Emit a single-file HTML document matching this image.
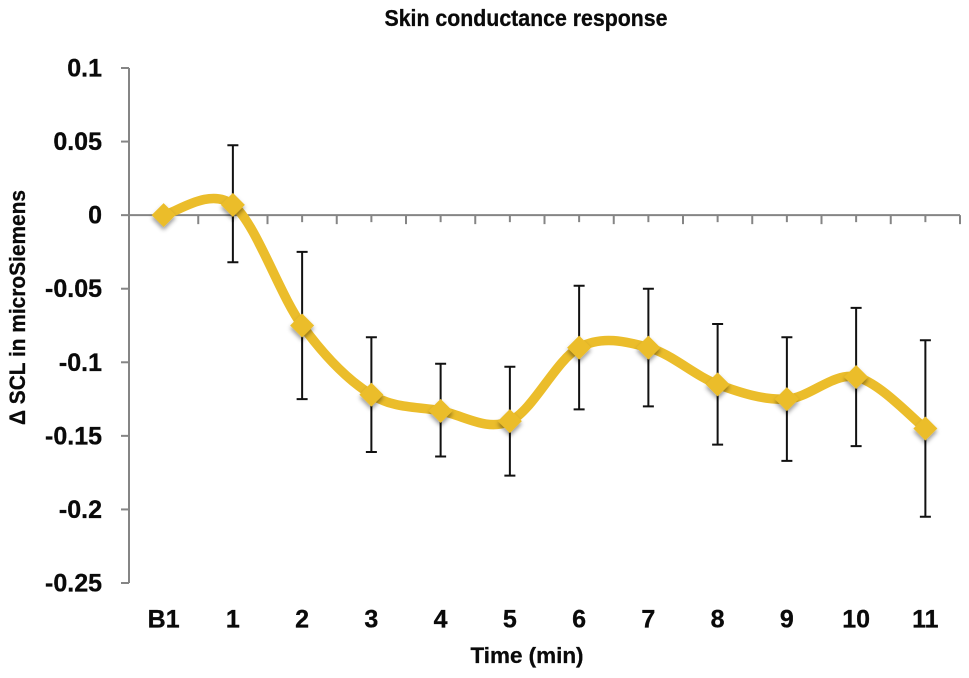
<!DOCTYPE html>
<html lang="en">
<head>
<meta charset="utf-8">
<title>Skin conductance response</title>
<style>
  html, body { margin: 0; padding: 0; background: #fff; }
  body { width: 969px; height: 678px; overflow: hidden; }
  svg { display: block; filter: blur(0.35px); }
  text { font-family: "Liberation Sans", sans-serif; font-weight: bold; fill: #0a0a0a; stroke: #0a0a0a; stroke-width: 0.3px; }
</style>
</head>
<body>
<svg id="chart" xmlns="http://www.w3.org/2000/svg" width="969" height="678" viewBox="0 0 969 678">
  <defs>
    <filter id="marker-shadow" x="-60%" y="-60%" width="220%" height="220%">
      <feDropShadow dx="0" dy="3" stdDeviation="2" flood-color="#000" flood-opacity="0.4"></feDropShadow>
    </filter>
  </defs>
  <rect x="0" y="0" width="969" height="678" fill="#ffffff"></rect>
  <text x="526" y="26" font-size="23" text-anchor="middle" textLength="283" lengthAdjust="spacingAndGlyphs">Skin conductance response</text>
  <text transform="translate(25 307.5) rotate(-90)" font-size="22" text-anchor="middle" textLength="235" lengthAdjust="spacingAndGlyphs">Δ SCL in microSiemens</text>
  <text x="527" y="663" font-size="22.5" text-anchor="middle" textLength="113" lengthAdjust="spacingAndGlyphs">Time (min)</text>
  <g id="axes"></g>
  <g id="errors"></g>
  <path id="line" fill="none" stroke="#ebbd2b" stroke-width="9.5" stroke-linejoin="round" stroke-linecap="round"></path>
  <g id="markers" filter="url(#marker-shadow)"></g>
</svg>
<script>
const categories = ['B1', '1', '2', '3', '4', '5', '6', '7', '8', '9', '10', '11'];
const meanValues = [0, 0.007, -0.075, -0.122, -0.133, -0.14, -0.09, -0.09, -0.115, -0.125, -0.11, -0.145];
const upperValues = [null, 0.0475, -0.025, -0.083, -0.101, -0.103, -0.048, -0.05, -0.074, -0.083, -0.063, -0.085];
const lowerValues = [null, -0.032, -0.125, -0.161, -0.164, -0.177, -0.132, -0.13, -0.156, -0.167, -0.157, -0.205];
const yTickValues = [0.1, 0.05, 0, -0.05, -0.1, -0.15, -0.2, -0.25];
const yTickLabels = ['0.1', '0.05', '0', '-0.05', '-0.1', '-0.15', '-0.2', '-0.25'];

const SVG_NS = 'http://www.w3.org/2000/svg';
const plotLeft = 129, plotRight = 960, yTop = 68, yBottom = 583;
const yMax = 0.1, yMin = -0.25;
const step = (plotRight - plotLeft) / categories.length;
const xAt = function (i) { return plotLeft + step * (i + 0.5); };
const yAt = function (v) { return yTop + (yMax - v) / (yMax - yMin) * (yBottom - yTop); };

function make(tag, attrs, parent) {
  const el = document.createElementNS(SVG_NS, tag);
  for (const k in attrs) el.setAttribute(k, attrs[k]);
  parent.appendChild(el);
  return el;
}

const axes = document.getElementById('axes');
const grey = { stroke: '#858585', 'stroke-width': 2, fill: 'none' };

const yAxisLine = make('line', Object.assign({ x1: plotLeft, x2: plotLeft, y1: yAt(yMax), y2: yAt(yMin) }, grey), axes);



const xAxisLine = make('line', Object.assign({ x1: plotLeft, x2: plotRight, y1: yAt(0), y2: yAt(0) }, grey), axes);



yTickValues.forEach(function (v, i) {
  const y = yAt(v);
  const tick = make('line', Object.assign({ x1: plotLeft - 8, x2: plotLeft, y1: y, y2: y }, grey), axes);
  
  
  const label = make('text', { x: 102, y: y + 8.5, 'font-size': 25, 'text-anchor': 'end' }, axes);
  label.textContent = yTickLabels[i];
  
  
});

for (let i = 0; i <= categories.length; i++) {
  const x = plotLeft + step * i;
  const major = make('line', Object.assign({ x1: x, x2: x, y1: yAt(0), y2: yAt(0) + 9 }, grey), axes);
  
  
}

categories.forEach(function (c, i) {
  const minor = make('line', Object.assign({ x1: xAt(i), x2: xAt(i), y1: yAt(0), y2: yAt(0) + 7 }, grey), axes);
  
  
  const label = make('text', { x: xAt(i), y: 627.5, 'font-size': 25, 'text-anchor': 'middle' }, axes);
  label.textContent = c;
  
  
});

const errors = document.getElementById('errors');
categories.forEach(function (c, i) {
  if (upperValues[i] === null || lowerValues[i] === null) return;
  const x = xAt(i), yU = yAt(upperValues[i]), yL = yAt(lowerValues[i]);
  const d = 'M' + x + ' ' + yU + 'V' + yL +
            'M' + (x - 5.5) + ' ' + yU + 'H' + (x + 5.5) +
            'M' + (x - 5.5) + ' ' + yL + 'H' + (x + 5.5);
  const bar = make('path', { d: d, stroke: '#111', 'stroke-width': 2, fill: 'none' }, errors);
  
  
});

const pts = meanValues.map(function (v, i) { return [xAt(i), yAt(v)]; });
let pathD = 'M' + pts[0][0] + ' ' + pts[0][1];
for (let i = 0; i < pts.length - 1; i++) {
  const p0 = pts[Math.max(i - 1, 0)], p1 = pts[i], p2 = pts[i + 1], p3 = pts[Math.min(i + 2, pts.length - 1)];
  const c1x = p1[0] + (p2[0] - p0[0]) / 6, c1y = p1[1] + (p2[1] - p0[1]) / 6;
  const c2x = p2[0] - (p3[0] - p1[0]) / 6, c2y = p2[1] - (p3[1] - p1[1]) / 6;
  pathD += 'C' + c1x + ' ' + c1y + ' ' + c2x + ' ' + c2y + ' ' + p2[0] + ' ' + p2[1];
}
document.getElementById('line').setAttribute('d', pathD);

const markers = document.getElementById('markers');
pts.forEach(function (p) {
  const r = 12;
  const points = (p[0] - r) + ',' + p[1] + ' ' + p[0] + ',' + (p[1] - r) + ' ' + (p[0] + r) + ',' + p[1] + ' ' + p[0] + ',' + (p[1] + r);
  const m = make('polygon', { points: points, fill: '#ebbd2b' }, markers);
  
  
});
</script>
</body>
</html>
